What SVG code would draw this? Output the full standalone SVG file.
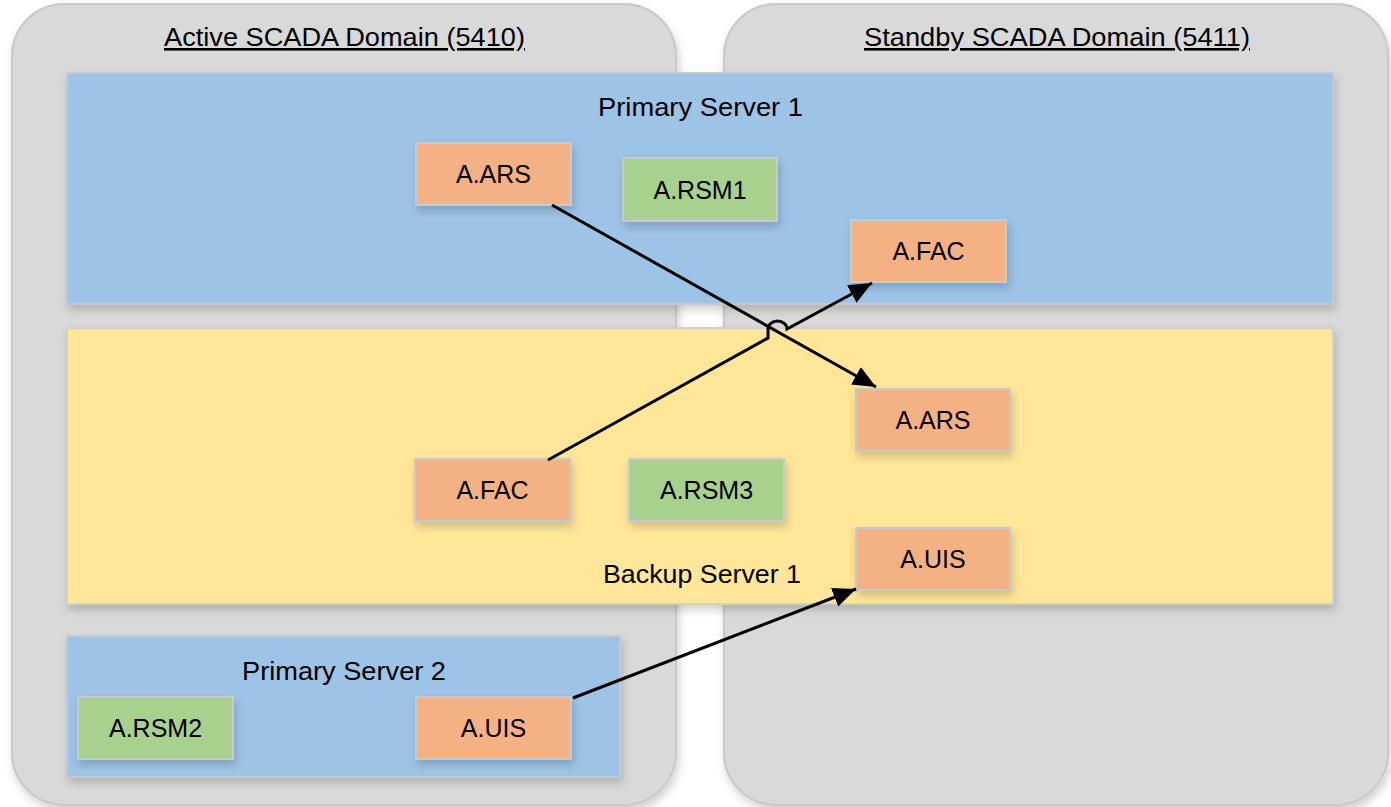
<svg xmlns="http://www.w3.org/2000/svg" width="1391" height="807" viewBox="0 0 1391 807">
<style>
.domain{fill:#d9d9d9;stroke:#c9c9c9;stroke-width:2}
.blue{fill:#9dc3e6;stroke:#c4c9cf;stroke-width:2}
.yellow{fill:#ffe699;stroke:#d0d0c8;stroke-width:2}
.orange{fill:#f4b183;stroke:#c9c9c9;stroke-width:2}
.green{fill:#a9d18e;stroke:#c9c9c9;stroke-width:2}
text{font-family:"Liberation Sans",Arial,sans-serif;fill:#000;text-anchor:middle}
.title{font-size:26px;text-decoration:underline}
.label{font-size:26px}
.node{font-size:25px}
.conn{fill:none;stroke:#000;stroke-width:3}
</style>
<defs>
<filter id="sh" x="-10%" y="-10%" width="125%" height="130%">
<feDropShadow dx="2" dy="5" stdDeviation="4" flood-color="#000" flood-opacity="0.18"/>
</filter>
<marker id="arr" markerUnits="userSpaceOnUse" markerWidth="26" markerHeight="22" refX="23" refY="10" orient="auto">
<path d="M0,0 L23,10 L0,20 Z" fill="#000"/>
</marker>
</defs>
<rect width="1391" height="807" fill="#fff"/>
<g id="active-domain">
<rect class="domain" x="12" y="4" width="664" height="801" rx="52" filter="url(#sh)"/>
<text class="title" x="344.5" y="46" textLength="361" lengthAdjust="spacingAndGlyphs">Active SCADA Domain (5410)</text>
</g>
<g id="standby-domain">
<rect class="domain" x="724" y="4" width="664" height="801" rx="52" filter="url(#sh)"/>
<text class="title" x="1057" y="46" textLength="386" lengthAdjust="spacingAndGlyphs">Standby SCADA Domain (5411)</text>
</g>
<g id="primary-server-1">
<rect class="blue" x="67" y="73" width="1266" height="231" filter="url(#sh)"/>
<text class="label" x="700.5" y="116" textLength="205" lengthAdjust="spacingAndGlyphs">Primary Server 1</text>
</g>
<g id="backup-server-1">
<rect class="yellow" x="67" y="328" width="1266" height="276" filter="url(#sh)"/>
<text class="label" x="702" y="583" textLength="198" lengthAdjust="spacingAndGlyphs">Backup Server 1</text>
</g>
<g id="primary-server-2">
<rect class="blue" x="67" y="636" width="553" height="141" filter="url(#sh)"/>
<text class="label" x="344" y="680" textLength="204" lengthAdjust="spacingAndGlyphs">Primary Server 2</text>
</g>
<g id="ps1-ars">
<rect class="orange" x="416" y="143" width="155" height="62" filter="url(#sh)"/>
<text class="node" x="493.5" y="183">A.ARS</text>
</g>
<g id="ps1-rsm1">
<rect class="green" x="623" y="158" width="154" height="63" filter="url(#sh)"/>
<text class="node" x="700" y="198.5">A.RSM1</text>
</g>
<g id="ps1-fac">
<rect class="orange" x="851" y="220" width="155" height="62" filter="url(#sh)"/>
<text class="node" x="928.5" y="260">A.FAC</text>
</g>
<g id="bs1-ars">
<rect class="orange" x="856" y="389" width="154" height="62" filter="url(#sh)"/>
<text class="node" x="933" y="429">A.ARS</text>
</g>
<g id="bs1-fac">
<rect class="orange" x="415" y="459" width="155" height="62" filter="url(#sh)"/>
<text class="node" x="492.5" y="499">A.FAC</text>
</g>
<g id="bs1-rsm3">
<rect class="green" x="629" y="459" width="155" height="62" filter="url(#sh)"/>
<text class="node" x="706.5" y="499">A.RSM3</text>
</g>
<g id="bs1-uis">
<rect class="orange" x="856" y="528" width="154" height="62" filter="url(#sh)"/>
<text class="node" x="933" y="568">A.UIS</text>
</g>
<g id="ps2-rsm2">
<rect class="green" x="78" y="697" width="155" height="62" filter="url(#sh)"/>
<text class="node" x="155.5" y="737">A.RSM2</text>
</g>
<g id="ps2-uis">
<rect class="orange" x="416" y="697" width="155" height="62" filter="url(#sh)"/>
<text class="node" x="493.5" y="737">A.UIS</text>
</g>
<g id="connectors">
<path class="conn" d="M552,205 L876,387" marker-end="url(#arr)"/>
<path class="conn" d="M548,460 L768,338 L768,329 A9.5,8 0 0 1 787,329 L872,283" marker-end="url(#arr)"/>
<path class="conn" d="M573,698 L856,589" marker-end="url(#arr)"/>
</g>
</svg>
